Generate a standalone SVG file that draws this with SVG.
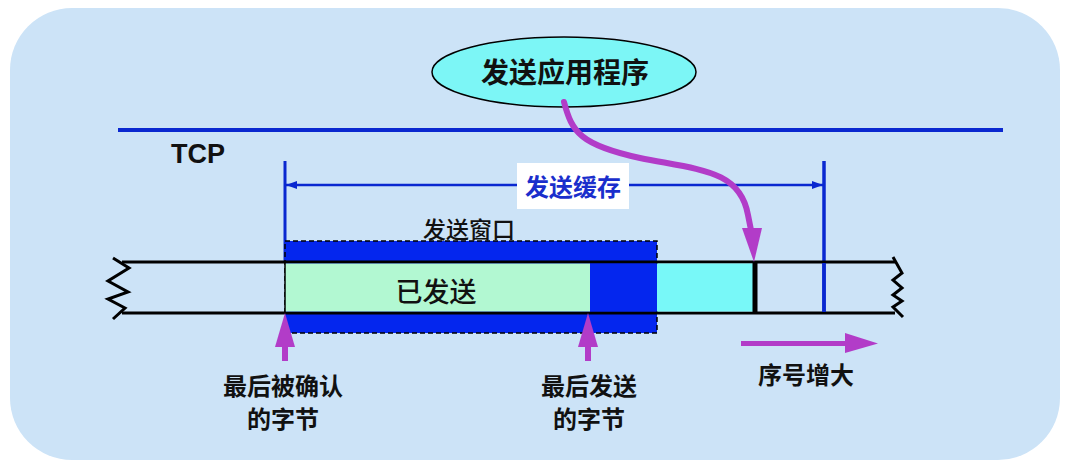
<svg xmlns="http://www.w3.org/2000/svg" width="1070" height="470" viewBox="0 0 1070 470">
<style>
.t{font-family:"Liberation Sans","Noto Sans CJK SC",sans-serif;font-weight:bold;fill:#111}
.blue{stroke:#0a28d0;fill:none}
.edge{stroke:#000;stroke-width:3;fill:none}
.zig{stroke:#000;stroke-width:3;fill:none;stroke-linejoin:miter}
.purple{fill:#b23cc8}
</style>
<defs>
<marker id="bh" markerWidth="11" markerHeight="8" refX="11" refY="4" orient="auto-start-reverse" markerUnits="userSpaceOnUse">
<path d="M0,0 L11,4 L0,8 Z" fill="#0a28d0"/>
</marker>
</defs>
<rect x="10" y="8" width="1050" height="452" rx="62" fill="#cce3f7"/>
<g id="tcp">
<line x1="118" y1="130" x2="1003" y2="130" stroke="#0a28d0" stroke-width="4"/>
<text class="t" x="171" y="163" font-size="27">TCP</text>
</g>
<g id="app">
<ellipse cx="564" cy="72" rx="132" ry="35" fill="#7cf6f6" stroke="#000" stroke-width="1.5"/>
<text class="t" x="565" y="83" font-size="28" text-anchor="middle">发送应用程序</text>
</g>
<g id="buffer">
<line x1="285" y1="161" x2="285" y2="262" class="blue" stroke-width="3"/>
<line x1="824" y1="161" x2="824" y2="313" class="blue" stroke-width="3.5"/>
<line x1="286" y1="185" x2="823" y2="185" class="blue" stroke-width="2.5" marker-start="url(#bh)" marker-end="url(#bh)"/>
<rect x="517" y="163" width="112" height="46" fill="#fff"/>
<text class="t" x="573" y="196" font-size="24" text-anchor="middle" style="fill:#1a2ecc">发送缓存</text>
</g>
<g id="window">
<text class="t" x="469" y="238" font-size="23" text-anchor="middle" style="font-weight:500">发送窗口</text>
<rect x="285" y="241" width="372" height="92" fill="#0426ee" stroke="#000" stroke-width="1.5" stroke-dasharray="5,3"/>
</g>
<g id="strip">
<line x1="122" y1="262" x2="895" y2="262" class="edge"/>
<line x1="122" y1="313" x2="895" y2="313" class="edge"/>
<rect x="285" y="263.5" width="305" height="48" fill="#b2f8d2"/>
<rect x="590" y="263.5" width="67" height="48" fill="#0426ee"/>
<rect x="657" y="263.5" width="96" height="48" fill="#78f8f8"/>
<line x1="285" y1="262" x2="285" y2="313" stroke="#000" stroke-width="1.5"/>
<line x1="755" y1="261" x2="755" y2="314" stroke="#000" stroke-width="5"/>
<line x1="824" y1="263" x2="824" y2="312" class="blue" stroke-width="3.5"/>
<polyline class="zig" points="113,258 129,268 108,281 128,292 108,299 125,308 113,319"/>
<polyline class="zig" points="893,257 902,273 893,280 902,288 893,295 902,301 893,307 903,317"/>
<text class="t" x="436" y="302" font-size="27" text-anchor="middle" style="font-weight:500">已发送</text>
</g>
<g id="connectors">
<path d="M564,102 C572,132 580,145 640,158 C700,170 740,170 748,215 L751,230" fill="none" stroke="#b23cc8" stroke-width="6" stroke-linecap="round"/>
<path d="M742,228 L762,228 L754,262 Z" class="purple"/>
<path d="M275,347 L295,347 L285,313 Z" class="purple"/>
<rect x="282" y="346" width="6" height="15" class="purple"/>
<path d="M578,347 L598,347 L588,313 Z" class="purple"/>
<rect x="585" y="346" width="6" height="15" class="purple"/>
<rect x="741" y="341" width="106" height="5" class="purple"/>
<path d="M845,333 L878,343.5 L845,353 Z" class="purple"/>
</g>
<g id="labels">
<text class="t" x="283" y="395" font-size="24" text-anchor="middle">最后被确认</text>
<text class="t" x="283" y="428" font-size="24" text-anchor="middle">的字节</text>
<text class="t" x="589" y="395" font-size="24" text-anchor="middle">最后发送</text>
<text class="t" x="589" y="428" font-size="24" text-anchor="middle">的字节</text>
<text class="t" x="806" y="384" font-size="24" text-anchor="middle">序号增大</text>
</g>
</svg>
